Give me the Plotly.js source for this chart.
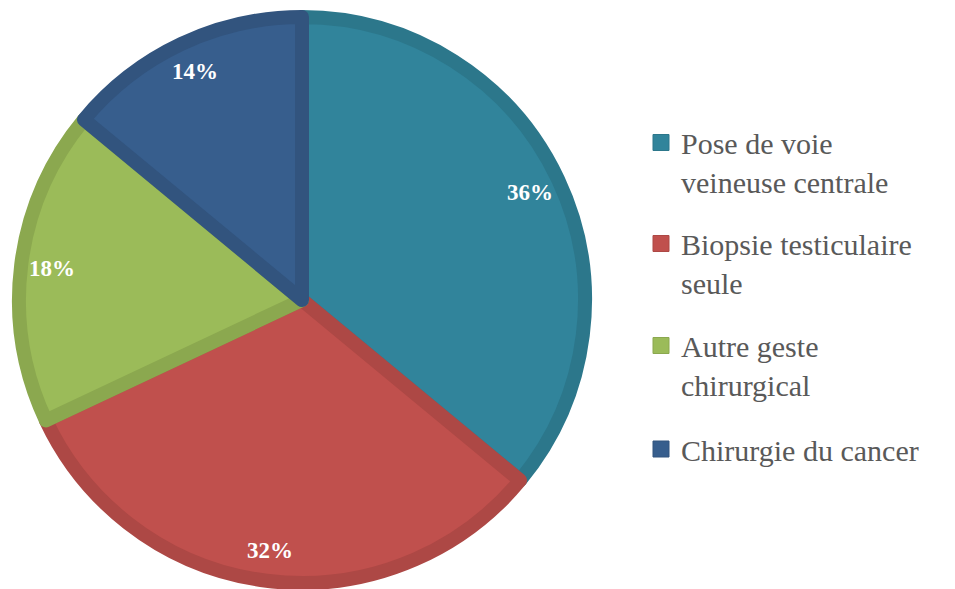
<!DOCTYPE html>
<html>
<head>
<meta charset="utf-8">
<script src="https://cdn.plot.ly/plotly-3.0.1.min.js"></script>
<style>html,body{margin:0;padding:0;background:#fff;}#chart{width:955px;height:589px;}</style>
</head>
<body>
<div id="chart"></div>
<script>
// Data
const categories = ["Pose de voie<br>veineuse centrale", "Biopsie testiculaire<br>seule", "Autre geste<br>chirurgical", "Chirurgie du cancer"];
const values = [36, 32, 18, 14];
const fillColors = ["#31849B", "#C0504D", "#9BBB59", "#375E8D"];
const edgeColors = ["#2C778B", "#AD4845", "#8BA84F", "#32547E"];

const W = 955, H = 589;
const cx = 302, cy = 300, R = 290, lw = 14;
const rIn = R - lw / 2;
const SERIF = "Liberation Serif, Times New Roman, serif";

function dom(r) {
  return {
    x: [(cx - r) / W, (cx + r) / W],
    y: [(H - (cy + r)) / H, (H - (cy - r)) / H]
  };
}

const total = values.reduce((a, b) => a + b, 0);

const traces = [{
  type: 'pie', labels: categories, values: values, sort: false,
  direction: 'clockwise', rotation: 0, domain: dom(rIn),
  marker: {colors: fillColors, line: {width: lw, color: edgeColors}},
  textinfo: 'none', hoverinfo: 'label+percent', showlegend: false
}];

// legend entries (one legend per category so each can be spaced like the original)
const legendNames = ['legend', 'legend2', 'legend3', 'legend4'];
const legendCenters = [162, 263, 365, 449];
categories.forEach((c, i) => {
  traces.push({
    type: 'scatter', mode: 'markers', x: [null], y: [null], name: c,
    legend: legendNames[i], showlegend: true, hoverinfo: 'skip',
    marker: {symbol: 'square', size: 16, color: fillColors[i], line: {width: 1, color: edgeColors[i]}}
  });
});

// Percentage labels placed from cumulative values
const annotations = [];
let cum = 0;
values.forEach((v, i) => {
  const mid = (cum + v / 2) / total * 2 * Math.PI;
  cum += v;
  const rl = 0.87 * R;
  const px = cx + rl * Math.sin(mid);
  const py = cy - rl * Math.cos(mid);
  annotations.push({
    xref: 'paper', yref: 'paper', x: px / W, y: 1 - py / H,
    xanchor: 'center', yanchor: 'middle', showarrow: false,
    text: '<b>' + Math.round(v / total * 100) + '%</b>',
    font: {family: SERIF, size: 23, color: '#FFFFFF'}
  });
});

const layout = {
  width: W, height: H,
  margin: {l: 0, r: 0, t: 0, b: 0},
  paper_bgcolor: '#FFFFFF',
  plot_bgcolor: 'rgba(0,0,0,0)',
  font: {family: SERIF},
  xaxis: {visible: false, domain: [0.99, 1]},
  yaxis: {visible: false, domain: [0.99, 1]},
  annotations: annotations
};
legendNames.forEach((ln, i) => {
  layout[ln] = {
    x: 641 / W, y: 1 - legendCenters[i] / H, xanchor: 'left', yanchor: 'middle',
    valign: 'top',
    font: {family: SERIF, size: 30, color: '#595959'},
    bgcolor: 'rgba(0,0,0,0)', borderwidth: 0
  };
});

Plotly.newPlot('chart', traces, layout, {displayModeBar: false, staticPlot: true});
</script>
</body>
</html>
